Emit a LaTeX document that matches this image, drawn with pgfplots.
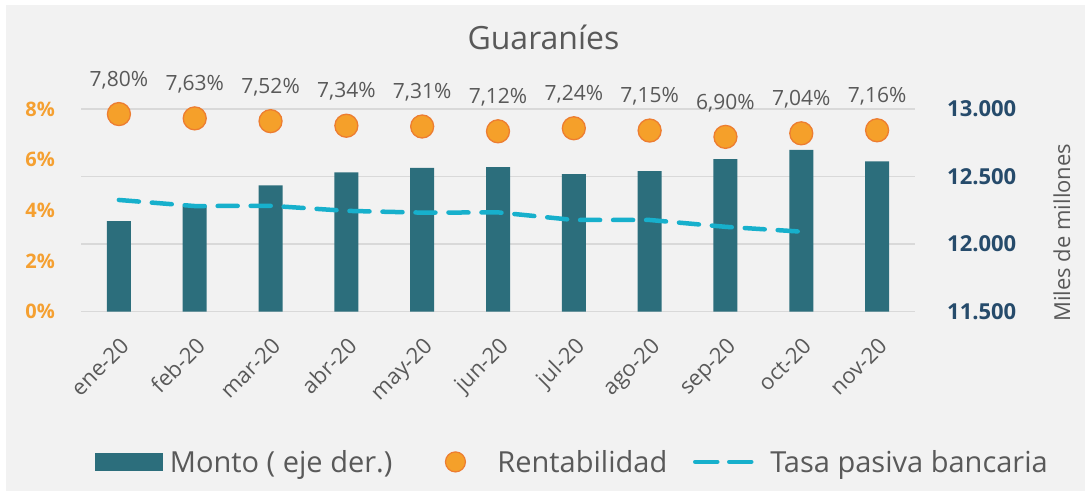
\documentclass[border=0pt]{standalone}
\usepackage{pgfplots}
\pgfplotsset{compat=1.18}
\usepackage{fontspec}
\setmainfont{Open Sans}
\definecolor{bgray}{HTML}{F2F2F2}
\definecolor{txtgray}{HTML}{595959}
\definecolor{gridgray}{HTML}{D9D9D9}
\definecolor{barcol}{HTML}{2C6E7C}
\definecolor{orfill}{HTML}{F5A02A}
\definecolor{oredge}{HTML}{ED7D31}
\definecolor{cyanl}{HTML}{17B0CC}
\definecolor{leftlab}{HTML}{F5A031}
\definecolor{rightlab}{HTML}{264B6B}

\begin{document}
\begin{tikzpicture}
\path[use as bounding box] (0,0) rectangle (1087pt,493pt);
\fill[white] (0,0) rectangle (1087pt,493pt);
\fill[bgray] (6pt,2pt) rectangle (1085pt,488pt);
\node[text=txtgray,font=\fontsize{32}{38}\selectfont] at (543.5pt,456pt) {Guaraníes};

% bars, right axis
\begin{axis}[
  at={(81pt,181.3pt)}, anchor=south west,
  scale only axis, width=834pt, height=202.7pt,
  xmin=-0.5, xmax=10.5,
  ymin=11500, ymax=13000,
  ytick={11500,12000,12500,13000},
  scaled y ticks=false,
  axis y line*=right, axis x line=none,
  axis line style={draw=none}, major tick length=0pt,
  ymajorgrids, grid style={gridgray,line width=1.5pt},
  /pgf/number format/assume math mode=true,
  /pgf/number format/1000 sep={.},
  yticklabel style={font=\fontsize{22}{26}\selectfont\bfseries,text=rightlab,
    anchor=west,inner sep=0pt,xshift=32pt},
  ylabel={Miles de millones},
  ylabel style={at={(rel axis cs:1.176,0.39)},anchor=center,
    font=\fontsize{22}{26}\selectfont,text=txtgray},
]
\addplot[ybar,bar width=24pt,fill=barcol,draw=none] coordinates {
  (0,12171) (1,12284) (2,12435) (3,12531) (4,12565) (5,12570)
  (6,12518) (7,12541) (8,12629) (9,12698) (10,12612)};
\end{axis}

% left axis: rentabilidad and tasa pasiva
\begin{axis}[
  at={(81pt,181.3pt)}, anchor=south west,
  scale only axis, width=834pt, height=202.7pt,
  xmin=-0.5, xmax=10.5,
  ymin=0, ymax=8,
  ytick={0,2,4,6,8},
  yticklabel={\pgfmathprintnumber{\tick}\%},
  axis y line*=left, axis x line*=bottom,
  axis line style={draw=none}, major tick length=0pt,
  clip=false,
  /pgf/number format/assume math mode=true,
  yticklabel style={font=\fontsize{20}{24}\selectfont\bfseries,text=leftlab,
    anchor=east,inner sep=0pt,xshift=-26pt},
  xtick={0,...,10},
  xticklabels={ene-20,feb-20,mar-20,abr-20,may-20,jun-20,jul-20,ago-20,sep-20,oct-20,nov-20},
  xticklabel style={font=\fontsize{22}{26}\selectfont,text=txtgray,
    yshift=-24pt,xshift=0pt,rotate=45,anchor=north east,inner sep=0pt},
  legend columns=3,
  legend style={at={(0.588,-0.741)},anchor=center,draw=none,fill=none,
    font=\fontsize{29}{33}\selectfont,text=txtgray,
    nodes={inner xsep=0pt,inner ysep=2pt}},
]
\addlegendimage{legend image code/.code={
  \path[draw=none,fill=none] (0pt,0pt) -- (75pt,0pt);
  \fill[barcol,draw=none] (0pt,-9pt) rectangle (68pt,9pt);}}
\addlegendentry{Monto ( eje der.)}
\addplot[only marks,mark=*,mark size=11.5pt,
  mark options={fill=orfill,draw=oredge,line width=1.3pt},
  nodes near coords,point meta=explicit symbolic,
  every node near coord/.style={anchor=center,yshift=34pt,text=txtgray,
    font=\fontsize{21}{25}\selectfont},
  legend image code/.code={
    \path[draw=none,fill=none] (0pt,0pt) -- (105pt,0pt);
    \path[fill=orfill,draw=oredge,line width=1.2pt] (63pt,0pt) circle (10pt);}]
coordinates {
  (0,7.80) [7,80\%] (1,7.63) [7,63\%] (2,7.52) [7,52\%] (3,7.34) [7,34\%]
  (4,7.31) [7,31\%] (5,7.12) [7,12\%] (6,7.24) [7,24\%] (7,7.15) [7,15\%]
  (8,6.90) [6,90\%] (9,7.04) [7,04\%] (10,7.16) [7,16\%]};
\addlegendentry{Rentabilidad}
\addplot[cyanl,line width=4.5pt,line cap=round,dash pattern=on 20pt off 13pt,
  sharp plot,mark=none,
  legend image code/.code={
    \path[draw=none,fill=none] (0pt,0pt) -- (103pt,0pt);
    \path[draw=cyanl,line width=4.5pt,line cap=round,dash pattern=on 22pt off 12pt]
      (28pt,0pt) -- (90pt,0pt);}]
coordinates {
  (0,4.41) (1,4.17) (2,4.18) (3,3.98) (4,3.91) (5,3.92)
  (6,3.62) (7,3.62) (8,3.35) (9,3.16)};
\addlegendentry{Tasa pasiva bancaria}
\end{axis}
\end{tikzpicture}
\end{document}
